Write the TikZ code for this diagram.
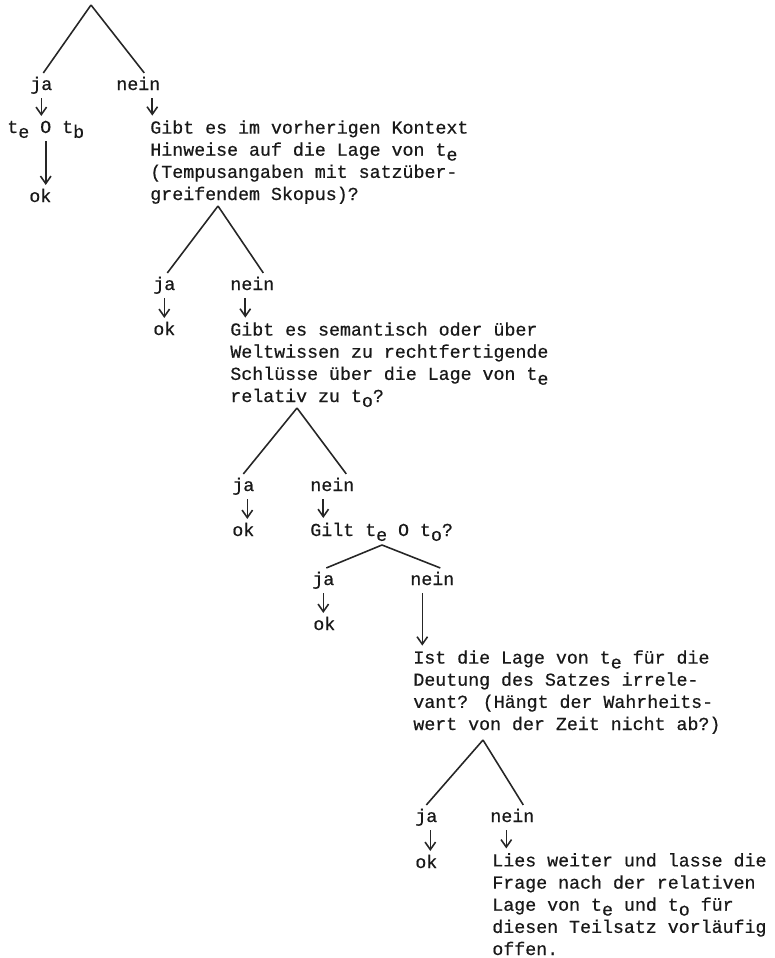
\documentclass[tikz,border=0pt]{standalone}
\usepackage{fontspec}
\usepackage{tikz}
\usetikzlibrary{arrows.meta}
\newfontfamily\schreibm[FakeBold=0.6]{Liberation Mono}
\newcommand{\tsub}[1]{t\raisebox{-.5ex}{#1}}

\begin{document}
\begin{tikzpicture}[x=.2mm,y=-.2mm,>={Straight Barb[length=1.5mm,width=2.1mm]}]
\tikzset{
  txt/.style={anchor=base west,inner xsep=0pt,inner ysep=2.5pt,text=black!90,font=\schreibm\fontsize{10.4}{12.6}\selectfont},
  quest/.style={txt,align=left},
  ans/.style={txt,text height=7pt,text depth=2pt},
  fork/.style={draw=black!85,line width=.9pt},
  arr/.style={->,draw=black!85,line width=.9pt}
}
\useasboundingbox (0,0) rectangle (774,958);
% erste Frage (quest: Position = Grundlinie der letzten Zeile)
\coordinate (f0) at (91,5);
\node[ans] (ja1) at (30,90) {ja};
\node[ans] (nein1) at (116,90) {nein};
\draw[fork] (f0) -- ([xshift=.4mm]ja1.north);
\draw[fork] (f0) -- ([xshift=1.2mm]nein1.north);
\node[ans] (rel) at (7,133) {\tsub{e} O \tsub{b}};
\node[ans] (ok1) at (29,202) {ok};
\draw[arr] (ja1.south) -- (ja1.south |- rel.north);
\draw[arr] (rel.south) -- (rel.south |- ok1.north);
\node[quest] (q1) at (150,200) {Gibt es im vorherigen Kontext\\Hinweise auf die Lage von \tsub{e}\\(Tempusangaben mit satzüber-\\greifendem Skopus)?};
\draw[arr] ([xshift=2.8mm]nein1.south) -- ([xshift=2.8mm]nein1.south |- q1.north);
% Kontext
\coordinate (f1) at (218,206);
\node[ans] (ja2) at (153,290) {ja};
\node[ans] (nein2) at (230,290) {nein};
\draw[fork] (f1) -- ([xshift=.6mm]ja2.north);
\draw[fork] (f1) -- ([xshift=2.2mm]nein2.north);
\node[ans] (ok2) at (153,335) {ok};
\node[quest] (q2) at (230,402) {Gibt es semantisch oder über\\Weltwissen zu rechtfertigende\\Schlüsse über die Lage von \tsub{e}\\relativ zu \tsub{o}?};
\draw[arr] (ja2.south) -- (ja2.south |- ok2.north);
\draw[arr] ([xshift=-1.4mm]nein2.south) -- ([xshift=-1.4mm]nein2.south |- q2.north);
% Weltwissen
\coordinate (f2) at (297,408);
\node[ans] (ja3) at (232,491) {ja};
\node[ans] (nein3) at (310,491) {nein};
\draw[fork] (f2) -- (ja3.north);
\draw[fork] (f2) -- ([xshift=2.8mm]nein3.north);
\node[ans] (ok3) at (232,536) {ok};
\node[quest] (q3) at (310,536) {Gilt \tsub{e} O \tsub{o}?};
\draw[arr] ([xshift=.8mm]ja3.south) -- ([xshift=.8mm]ja3.south |- ok3.north);
\draw[arr] ([xshift=-1.8mm]nein3.south) -- ([xshift=-1.8mm]nein3.south |- q3.north);
% Ueberlappung
\coordinate (f3) at (382,545);
\node[ans] (ja4) at (312,585) {ja};
\node[ans] (nein4) at (410,585) {nein};
\draw[fork] (f3) -- ([xshift=.6mm]ja4.north);
\draw[fork] (f3) -- ([xshift=1.6mm]nein4.north);
\node[ans] (ok4) at (313,630) {ok};
\node[quest] (q4) at (413,730) {Ist die Lage von \tsub{e} für die\\Deutung des Satzes irrele-\\vant? (Hängt der Wahrheits-\\wert von der Zeit nicht ab?)};
\draw[arr] (ja4.south) -- (ja4.south |- ok4.north);
\draw[arr] ([xshift=-2mm]nein4.south) -- ([xshift=-2mm]nein4.south |- q4.north);
% Relevanz
\coordinate (f4) at (483,740);
\node[ans] (ja5) at (415,822) {ja};
\node[ans] (nein5) at (490,822) {nein};
\draw[fork] (f4) -- (ja5.north);
\draw[fork] (f4) -- ([xshift=2.2mm]nein5.north);
\node[ans] (ok5) at (415,868) {ok};
\node[quest] (q5) at (492,955) {Lies weiter und lasse die\\Frage nach der relativen\\Lage von \tsub{e} und \tsub{o} für\\diesen Teilsatz vorläufig\\offen.};
\draw[arr] ([xshift=.8mm]ja5.south) -- ([xshift=.8mm]ja5.south |- ok5.north);
\draw[arr] ([xshift=-1.2mm]nein5.south) -- ([xshift=-1.2mm]nein5.south |- q5.north);
\end{tikzpicture}
\end{document}
